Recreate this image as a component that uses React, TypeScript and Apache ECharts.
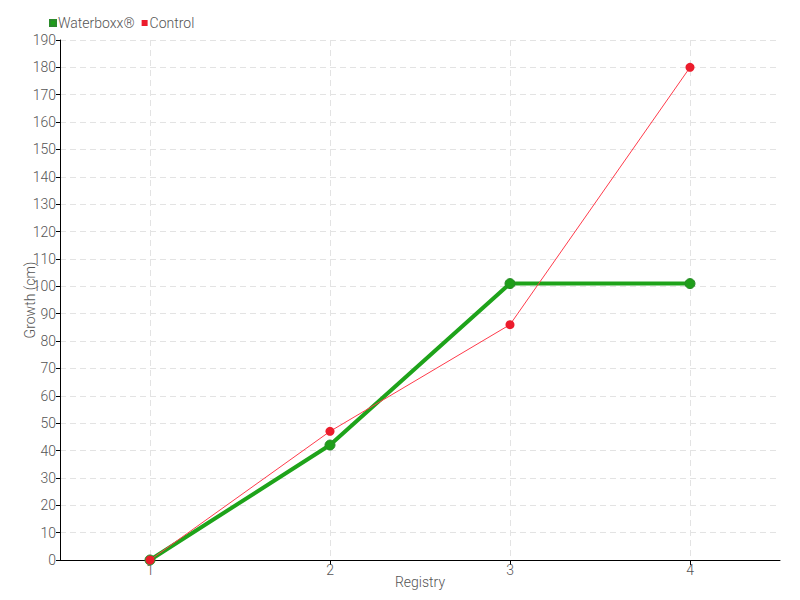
import React, { useEffect, useRef } from "react";
import * as echarts from "echarts";

const registries = [1, 2, 3, 4];
const waterboxx = [0, 42, 101, 101];
const control = [0, 47, 86, 180];
const yTicks = { min: 0, max: 190, interval: 10 };

const FONT = "Roboto, 'DejaVu Sans', sans-serif";
const txt = { color: "#555", fontSize: 14, fontFamily: FONT, fontWeight: 300 as any };

export default function App() {
  const ref = useRef<HTMLDivElement>(null);
  useEffect(() => {
    document.body.style.margin = "0";
    const chart = echarts.init(ref.current!, null, { renderer: "svg" });
    chart.setOption({
      animation: false,
      textStyle: { fontFamily: FONT },
      legend: {
        left: 44,
        top: 11,
        itemWidth: 6,
        itemHeight: 6,
        itemGap: 7,
        icon: "rect",
        textStyle: { ...txt, padding: [0, 0, 0, -3] },
        data: ["Waterboxx®", "Control"],
      },
      grid: { left: 60, right: 20, top: 40, bottom: 40, outerBoundsMode: "none" },
      xAxis: {
        type: "value",
        min: 0.5,
        max: 4.5,
        name: "Registry",
        nameLocation: "middle",
        nameGap: 15,
        nameMoveOverlap: false,
        nameTextStyle: txt,
        axisLine: { lineStyle: { color: "#000" } },
        axisTick: { show: true, customValues: registries, length: 5, lineStyle: { color: "#000" } },
        axisLabel: { customValues: registries, ...txt, margin: 3 },
        splitLine: { show: true, lineStyle: { color: "#e3e3e3", type: [6, 4] } },
      },
      yAxis: {
        type: "value",
        min: yTicks.min,
        max: yTicks.max,
        interval: yTicks.interval,
        name: "Growth (cm)",
        nameLocation: "middle",
        nameGap: 23,
        nameMoveOverlap: false,
        nameTextStyle: txt,
        axisLine: { show: true, lineStyle: { color: "#000" } },
        axisTick: { show: true, length: 4, lineStyle: { color: "#000" } },
        axisLabel: { ...txt, margin: 4 },
        splitLine: { show: true, lineStyle: { color: "#e3e3e3", type: [6, 4] } },
      },
      series: [
        {
          name: "Waterboxx®",
          type: "line",
          data: registries.map((r, i) => [r, waterboxx[i]]),
          symbol: "circle",
          symbolSize: 10,
          itemStyle: { color: "#1f9e1a", borderColor: "#2b8a2b", borderWidth: 1 },
          lineStyle: { color: "#1ea31a", width: 4 },
          z: 2,
        },
        {
          name: "Control",
          type: "line",
          data: registries.map((r, i) => [r, control[i]]),
          symbol: "circle",
          symbolSize: 9,
          itemStyle: { color: "#ec1c2c" },
          lineStyle: { color: "#ff3b4b", width: 1 },
          z: 3,
        },
      ],
    });
    return () => chart.dispose();
  }, []);
  return <div ref={ref} style={{ width: 800, height: 600 }} />;
}
